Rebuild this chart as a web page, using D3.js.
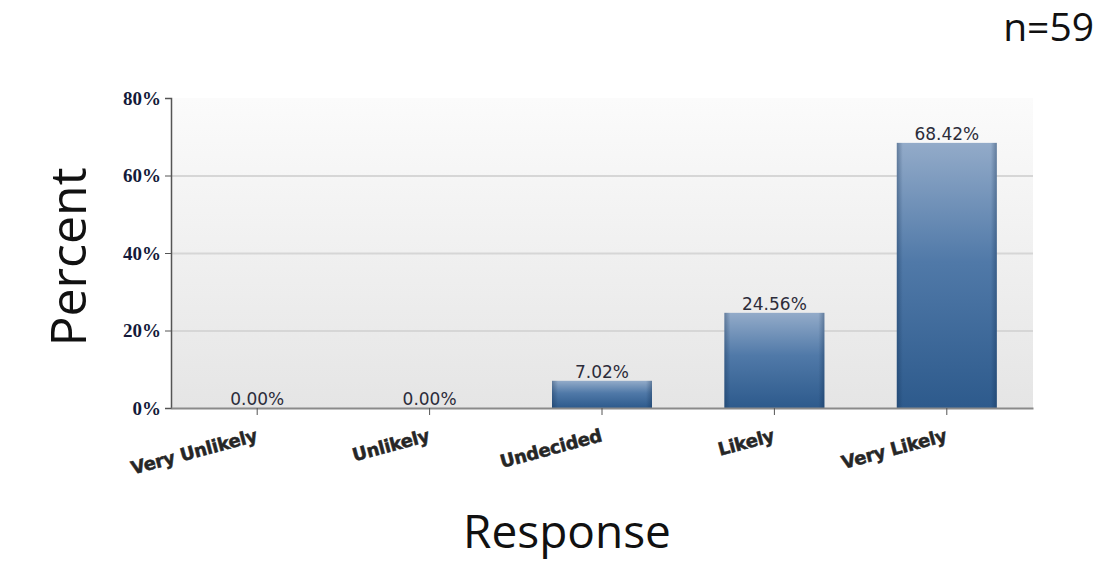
<!DOCTYPE html>
<html>
<head>
<meta charset="utf-8">
<script src="https://cdn.jsdelivr.net/npm/d3@7"></script>
<style>
  html, body { margin: 0; padding: 0; background: #fff; }
  svg { display: block; }
</style>
</head>
<body>
<svg id="chart" width="1099" height="575"></svg>
<script>
// Survey responses (percent of respondents)
const categories = ["Very Unlikely", "Unlikely", "Undecided", "Likely", "Very Likely"];
const percents = [0.00, 0.00, 7.02, 24.56, 68.42];
const yTicks = [0, 20, 40, 60, 80];
const sampleLabel = "n=59";

const svg = d3.select("#chart");
const plot = { left: 171, right: 1033, top: 98, bottom: 408 };

const x = d3.scaleBand()
  .domain(categories)
  .range([plot.left, plot.right])
  .paddingInner(0.42)
  .paddingOuter(0.21);

const y = d3.scaleLinear()
  .domain([0, 80])
  .range([plot.bottom, plot.top]);

const rows = categories.map((c, i) => ({ c, v: percents[i] }));

const defs = svg.append("defs");

// plot background: near-white at top fading to light grey
const bg = defs.append("linearGradient")
  .attr("id", "plotBg").attr("x1", 0).attr("y1", 0).attr("x2", 0).attr("y2", 1);
bg.append("stop").attr("offset", "0%").attr("stop-color", "#fbfbfb");
bg.append("stop").attr("offset", "100%").attr("stop-color", "#e5e5e5");

// bar fill: light steel blue at top to deep blue at bottom
const barV = defs.append("linearGradient")
  .attr("id", "barV").attr("x1", 0).attr("y1", 0).attr("x2", 0).attr("y2", 1);
barV.append("stop").attr("offset", "0%").attr("stop-color", "#93abc9");
barV.append("stop").attr("offset", "45%").attr("stop-color", "#5079a8");
barV.append("stop").attr("offset", "100%").attr("stop-color", "#2d5a8c");

// darker side edges for a soft cylinder look
const barH = defs.append("linearGradient")
  .attr("id", "barH").attr("x1", 0).attr("y1", 0).attr("x2", 1).attr("y2", 0);
barH.append("stop").attr("offset", "0%").attr("stop-color", "#0e2a4c").attr("stop-opacity", 0.35);
barH.append("stop").attr("offset", "6%").attr("stop-color", "#0e2a4c").attr("stop-opacity", 0.0);
barH.append("stop").attr("offset", "94%").attr("stop-color", "#0e2a4c").attr("stop-opacity", 0.0);
barH.append("stop").attr("offset", "100%").attr("stop-color", "#0e2a4c").attr("stop-opacity", 0.35);

svg.append("rect")
  .attr("x", plot.left).attr("y", plot.top)
  .attr("width", plot.right - plot.left).attr("height", plot.bottom - plot.top)
  .attr("fill", "url(#plotBg)");

// horizontal gridlines
svg.append("g").selectAll("line")
  .data(yTicks.filter(d => d > 0 && d < 80))
  .join("line")
  .attr("x1", plot.left).attr("x2", plot.right)
  .attr("y1", d => y(d) + 0.5).attr("y2", d => y(d) + 0.5)
  .attr("stroke", "#d6d6d6").attr("stroke-width", 2);

// bars
const bars = svg.append("g");
["url(#barV)", "url(#barH)"].forEach(fill => {
  bars.append("g").selectAll("rect")
    .data(rows.filter(d => d.v > 0))
    .join("rect")
    .attr("x", d => x(d.c)).attr("width", x.bandwidth())
    .attr("y", d => y(d.v)).attr("height", d => y(0) - y(d.v))
    .attr("fill", fill);
});

// value labels
svg.append("g").selectAll("text")
  .data(rows)
  .join("text")
  .attr("x", d => x(d.c) + x.bandwidth() / 2)
  .attr("y", d => y(d.v) - 3)
  .attr("text-anchor", "middle")
  .attr("font-family", "DejaVu Sans, Verdana, sans-serif")
  .attr("font-size", 17)
  .attr("fill", "#2c2c3a")
  .text(d => d.v.toFixed(2) + "%");

// y axis
const yAxis = svg.append("g")
  .attr("transform", `translate(${plot.left},0)`)
  .call(d3.axisLeft(y).tickValues(yTicks).tickSize(6).tickPadding(4).tickFormat(d => d + "%"));
yAxis.select(".domain").attr("stroke", "#555").attr("stroke-width", 1.5);
yAxis.selectAll(".tick line").attr("stroke", "#555");
yAxis.selectAll(".tick text")
  .attr("font-family", "Liberation Serif, Times New Roman, serif")
  .attr("font-weight", "bold")
  .attr("font-size", 19)
  .attr("fill", "#141a3a");

// x axis
const xAxis = svg.append("g")
  .attr("transform", `translate(0,${plot.bottom})`)
  .call(d3.axisBottom(x).tickSize(7).tickSizeOuter(0));
xAxis.select(".domain").attr("stroke", "#8a8a8a").attr("stroke-width", 2);
xAxis.selectAll(".tick line").attr("stroke", "#555");
xAxis.selectAll(".tick text")
  .attr("font-family", "DejaVu Sans, Verdana, sans-serif")
  .attr("font-weight", "bold")
  .attr("font-size", 18)
  .attr("letter-spacing", -0.3)
  .attr("fill", "#262626")
  .attr("stroke", "#262626")
  .attr("stroke-width", 0.5)
  .attr("text-anchor", "end")
  .attr("y", 0)
  .attr("dy", 0)
  .attr("transform", "translate(1,33) rotate(-15)");

// axis titles
svg.append("text")
  .attr("transform", `translate(86,${(plot.top + plot.bottom) / 2 + 4}) rotate(-90)`)
  .attr("text-anchor", "middle")
  .attr("font-family", "Open Sans, sans-serif")
  .attr("font-size", 50)
  .attr("fill", "#111")
  .text("Percent");

svg.append("text")
  .attr("x", 567).attr("y", 548)
  .attr("text-anchor", "middle")
  .attr("font-family", "Open Sans, sans-serif")
  .attr("font-size", 46)
  .attr("fill", "#111")
  .text("Response");

svg.append("text")
  .attr("x", 1094).attr("y", 41)
  .attr("text-anchor", "end")
  .attr("font-family", "Open Sans, sans-serif")
  .attr("font-size", 39)
  .attr("fill", "#111")
  .text(sampleLabel);
</script>
</body>
</html>
